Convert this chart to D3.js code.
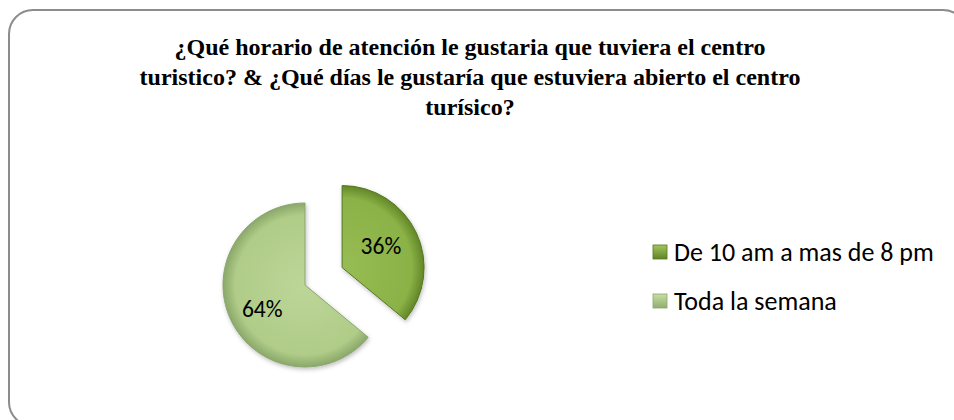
<!DOCTYPE html>
<html>
<head>
<meta charset="utf-8">
<script src="https://cdn.jsdelivr.net/npm/d3@7"></script>
<style>
  body { margin: 0; background: #fff; }
  svg { display: block; }
</style>
</head>
<body>
<div id="chart"></div>
<script>
var categories = ['De 10 am a mas de 8 pm', 'Toda la semana'];
var values = [36, 64];
var labels = ['36%', '64%'];
var titleLines = [
  '¿Qué horario de atención le gustaria que tuviera el centro',
  'turistico? & ¿Qué días le gustaría que estuviera abierto el centro',
  'turísico?'
];

var width = 954, height = 420;
var cx = 305, cy = 285, radius = 82, explode = 41;

var svg = d3.select('#chart')
  .append('svg')
  .attr('width', width)
  .attr('height', height);

var defs = svg.append('defs');

//--- GRADIENTS (bevel-ish look)
var fills = [
  { id: 'g0', inner: '#97bc55', mid: '#8ab246', outer: '#628628' },
  { id: 'g1', inner: '#bcd698', mid: '#b0cc88', outer: '#8aa86a' }
];
fills.forEach(function(f) {
  var g = defs.append('radialGradient')
    .attr('id', f.id)
    .attr('gradientUnits', 'userSpaceOnUse')
    .attr('cx', 0).attr('cy', 0).attr('r', radius);
  g.append('stop').attr('offset', '0%').attr('stop-color', f.inner);
  g.append('stop').attr('offset', '85%').attr('stop-color', f.mid);
  g.append('stop').attr('offset', '100%').attr('stop-color', f.outer);
});

var legendFills = [
  { id: 'l0', top: '#a3c65e', bottom: '#5e8426' },
  { id: 'l1', top: '#c8dea6', bottom: '#8fae6f' }
];
legendFills.forEach(function(f) {
  var g = defs.append('linearGradient')
    .attr('id', f.id)
    .attr('x1', 0).attr('y1', 0).attr('x2', 0).attr('y2', 1);
  g.append('stop').attr('offset', '0%').attr('stop-color', f.top);
  g.append('stop').attr('offset', '100%').attr('stop-color', f.bottom);
});

var shadow = defs.append('filter')
  .attr('id', 'shadow')
  .attr('x', '-20%').attr('y', '-20%').attr('width', '140%').attr('height', '140%');
shadow.append('feDropShadow')
  .attr('dx', 1).attr('dy', 2).attr('stdDeviation', 2)
  .attr('flood-color', '#000').attr('flood-opacity', 0.25);

//--- FRAME
svg.append('rect')
  .attr('x', 9).attr('y', 10)
  .attr('width', 958).attr('height', 416)
  .attr('rx', 24).attr('ry', 24)
  .attr('fill', '#fff')
  .attr('stroke', '#8c8c8c')
  .attr('stroke-width', 2);

//--- TITLE
svg.append('text')
  .attr('x', 470)
  .attr('y', 55)
  .attr('text-anchor', 'middle')
  .style('font-family', '"Liberation Serif", "Times New Roman", serif')
  .style('font-weight', 'bold')
  .style('font-size', '24px')
  .attr('fill', '#000')
  .selectAll('tspan')
  .data(titleLines)
  .join('tspan')
  .attr('x', 470)
  .attr('dy', function(d, i) { return i === 0 ? 0 : 30; })
  .text(function(d) { return d; });

//--- PIE
var pie = d3.pie().sort(null).value(function(d) { return d; });
var arcs = pie(values);

var arc = d3.arc().innerRadius(0).outerRadius(radius);
var labelArc = d3.arc().innerRadius(radius * 0.55).outerRadius(radius * 0.55);

var pieG = svg.append('g')
  .attr('transform', 'translate(' + cx + ',' + cy + ')');

var slices = pieG.selectAll('g.slice')
  .data(arcs)
  .join('g')
  .attr('class', 'slice')
  .attr('transform', function(d, i) {
    if (i !== 0) return null;
    var a = (d.startAngle + d.endAngle) / 2;
    return 'translate(' + (Math.sin(a) * explode) + ',' + (-Math.cos(a) * explode) + ')';
  });

slices.append('path')
  .attr('d', arc)
  .attr('fill', function(d, i) { return 'url(#g' + i + ')'; })
  .attr('stroke', function(d, i) { return i === 0 ? '#55761f' : '#8aa56c'; })
  .attr('stroke-width', 1)
  .attr('filter', 'url(#shadow)');

slices.append('text')
  .attr('transform', function(d, i) {
    var c = labelArc.centroid(d);
    return 'translate(' + (c[0] - 2) + ',' + (c[1] + (i === 0 ? -3 : 5)) + ')';
  })
  .attr('text-anchor', 'middle')
  .attr('dy', '0.35em')
  .style('font-family', 'Carlito, Lato, "Open Sans", sans-serif')
  .style('font-size', '23.5px')
  .attr('fill', '#000')
  .text(function(d, i) { return labels[i]; });

//--- LEGEND
var legend = svg.append('g')
  .attr('transform', 'translate(653,252)');

var items = legend.selectAll('g')
  .data(categories)
  .join('g')
  .attr('transform', function(d, i) { return 'translate(0,' + (i * 49) + ')'; });

items.append('rect')
  .attr('x', 0).attr('y', -7)
  .attr('width', 14).attr('height', 14)
  .attr('fill', function(d, i) { return 'url(#l' + i + ')'; })
  .attr('stroke', function(d, i) { return i === 0 ? '#55761f' : '#8aa56c'; })
  .attr('stroke-width', 0.8);

items.append('text')
  .attr('x', 21)
  .attr('dy', '0.35em')
  .style('font-family', 'Carlito, Lato, "Open Sans", sans-serif')
  .style('font-size', '26px')
  .attr('fill', '#000')
  .text(function(d) { return d; });
</script>
</body>
</html>
